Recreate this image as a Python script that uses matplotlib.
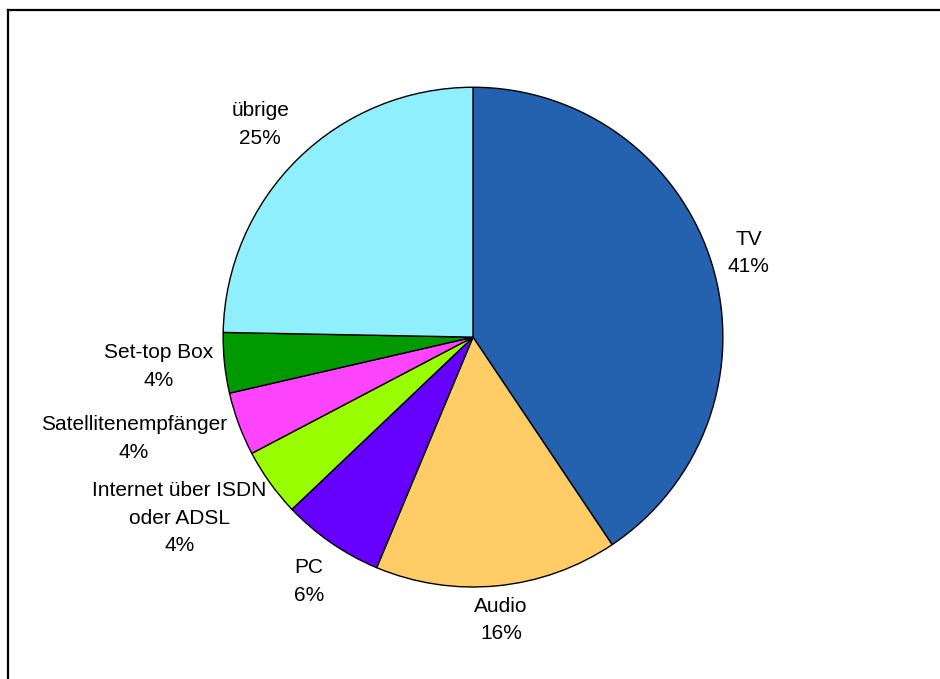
import matplotlib.pyplot as plt
import matplotlib.lines as mlines
import matplotlib.transforms as mtransforms
import numpy as np

plt.rcParams['font.family'] = ['Liberation Sans', 'DejaVu Sans']

##### data (clockwise from 12 o'clock)
labels = ['TV', 'Audio', 'PC', 'Internet über ISDN\noder ADSL',
          'Satellitenempfänger', 'Set-top Box', 'übrige']
values = [40.6, 15.7, 6.6, 4.4, 4.1, 3.9, 24.7]
pct_text = ['41%', '16%', '6%', '4%', '4%', '4%', '25%']
colors = ['#2461AE', '#FFCC66', '#6600FF', '#99FF00', '#FF44FF', '#009900', '#90EFFD']

fig = plt.figure(figsize=(9.4, 6.79), dpi=100)

##### frame (top + left only, rest is cut off)
fig.add_artist(mlines.Line2D([8/940, 1], [1 - 10/679, 1 - 10/679], color='black', lw=1.6))
fig.add_artist(mlines.Line2D([8/940, 8/940], [0, 1 - 10/679], color='black', lw=1.6))

ax = fig.add_axes([0.2372, 0.1355, 0.532, 0.736])
wedges, _ = ax.pie(values, colors=colors, startangle=90, counterclock=False,
                   wedgeprops=dict(edgecolor='black', linewidth=1))
ax.set_xlim(-1, 1)
ax.set_ylim(-1, 1)
ax.set_aspect('equal')

renderer = fig.canvas.get_renderer()

##### labels outside: anchor at mid angle, box pushed outward by half its size
for w, lab, pct in zip(wedges, labels, pct_text):
    theta = np.deg2rad((w.theta1 + w.theta2) / 2)
    c, s = np.cos(theta), np.sin(theta)
    r = 1.03 + 0.07 * abs(np.sin(2 * theta))  # diagonal labels sit a bit further out
    t = ax.text(r * c, r * s, lab + '\n' + pct, ha='center', va='center',
                multialignment='center', fontsize=15, linespacing=1.55, clip_on=False)
    bb = t.get_window_extent(renderer)
    t.set_transform(ax.transData + mtransforms.Affine2D().translate(c * bb.width / 2, s * bb.height / 2))

plt.savefig('out.png', dpi=100)
